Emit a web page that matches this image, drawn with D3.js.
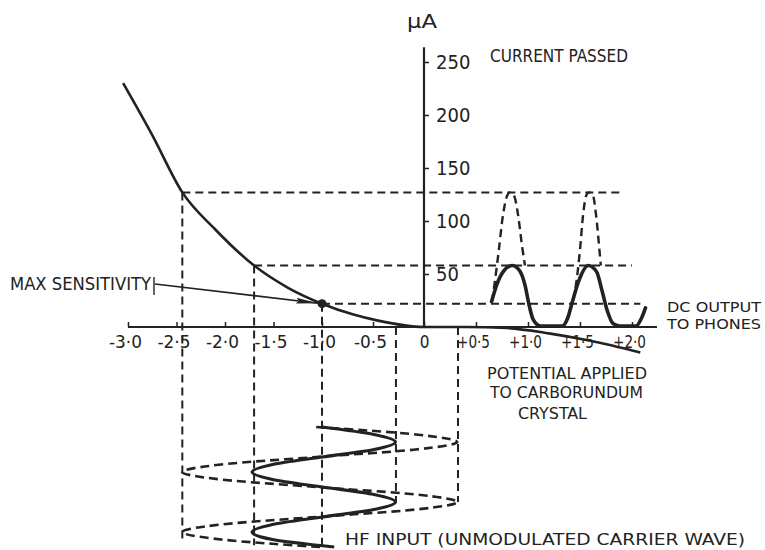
<!DOCTYPE html>
<html><head><meta charset="utf-8">
<script src="https://cdn.jsdelivr.net/npm/d3@7"></script>
<style>
body{margin:0;background:#fff;}
svg{display:block;}
text{font-family:"Liberation Sans Narrow","DejaVu Sans Condensed","Liberation Sans",sans-serif;fill:#222;}
</style></head><body>
<svg id="c" width="765" height="550"></svg>
<script>
// ---- axis ticks ----
const xTicks = [-3, -2.5, -2, -1.5, -1, -0.5, 0, 0.5, 1, 1.5, 2];
const xTickLabels = ["-3·0", "-2·5", "-2·0", "-1·5", "-1·0", "-0·5", "0", "+0·5", "+1·0", "+1·5", "+2·0"];
const yTicks = [50, 100, 150, 200, 250];
const yTickLabels = ["50", "100", "150", "200", "250"];

// ---- characteristic curve: potential (V) vs current (µA) ----
const curveV = [-3.05, -2.75, -2.44, -2.1, -1.7, -1.35, -1.0, -0.7, -0.45, 0, 0.4, 0.8, 1.2, 1.6, 2.08];
const curveI = [230, 181, 127, 92, 58, 37, 22, 12, 6, 0, 0, -1, -6, -13, -24];

// ---- rectified output (solid, small signal) ----
const outV = [0.65, 0.70, 0.76, 0.85, 0.92, 0.97, 1.01, 1.05, 1.12, 1.33, 1.38, 1.43, 1.49, 1.58, 1.66, 1.71, 1.76, 1.82, 1.88, 2.04, 2.09, 2.13];
const outI = [24, 40, 52, 58, 53, 40, 21, 7, 1, 1, 8, 25, 44, 58, 52, 35, 16, 3, 1, 1, 8, 18];

// ---- rectified output (dashed, large signal) ----
const peak1V = [0.654, 0.683, 0.72, 0.76, 0.80, 0.827, 0.865, 0.904, 0.942, 0.971];
const peak1I = [24, 44, 73, 106, 124, 127, 124, 106, 77, 58];
const peak2V = [1.433, 1.47, 1.50, 1.53, 1.56, 1.587, 1.625, 1.654, 1.683, 1.70];
const peak2I = [25, 46, 73, 106, 124, 127, 124, 106, 77, 58];

// ---- guide lines ----
const levelI = [127, 58, 22];
const levelFrom = [-2.44, -1.70, -1.0];
const levelTo = [1.88, 2.0, 2.08];
const dropV = [-2.44, -1.70, -1.0, -0.275, 0.327];
const dropTopI = [127, 58, 22, 0, 0];
const dropEndT = [1.88, 1.97, 2.0, 1.25, 1.25];

// ---- HF input (time in cycles downward, potential in V) ----
const hfT = [0, 0.125, 0.25, 0.375, 0.5, 0.625, 0.75, 0.875, 1, 1.125, 1.25, 1.375, 1.5, 1.625, 1.75, 1.875, 2];
const hfSolid = [-1.0, -0.49, -0.28, -0.49, -1.0, -1.51, -1.72, -1.51, -1.0, -0.49, -0.28, -0.49, -1.0, -1.51, -1.72, -1.51, -0.88];
const hfDashed = [-1.06, -0.08, 0.32, -0.08, -1.06, -2.04, -2.44, -2.04, -1.06, -0.08, 0.32, -0.08, -1.06, -2.04, -2.44, -2.04, -1.02];

const ink = "#222";
const svg = d3.select("#c");
const x = d3.scaleLinear().domain([-3, -1, 0, 2]).range([128, 322, 424, 632]);
const y = d3.scaleLinear().domain([0, 250]).range([327, 62]);
const t = d3.scaleLinear().domain([0, 2]).range([427, 547]);

svg.append("defs").append("marker")
  .attr("id", "arr").attr("viewBox", "0 0 22 8").attr("refX", 22).attr("refY", 4)
  .attr("markerWidth", 22).attr("markerHeight", 8).attr("markerUnits", "userSpaceOnUse")
  .attr("orient", "auto")
  .append("path").attr("d", "M0,1.2 L22,4 L0,6.8 L3,4 Z").attr("fill", ink);

// guides horizontal
svg.append("g").selectAll("line").data(levelI).join("line")
  .attr("x1", (d, i) => x(levelFrom[i])).attr("x2", (d, i) => x(levelTo[i]))
  .attr("y1", d => y(d)).attr("y2", d => y(d))
  .attr("stroke", ink).attr("stroke-width", 2).attr("stroke-dasharray", "8,5");
// guides vertical
svg.append("g").selectAll("line").data(dropV).join("line")
  .attr("x1", d => x(d)).attr("x2", d => x(d))
  .attr("y1", (d, i) => y(dropTopI[i])).attr("y2", (d, i) => t(dropEndT[i]))
  .attr("stroke", ink).attr("stroke-width", 2).attr("stroke-dasharray", "8,5");

// axes
const xAxis = d3.axisBottom(x).tickValues(xTicks).tickFormat((d, i) => xTickLabels[i])
  .tickSizeInner(-5).tickSizeOuter(0).tickPadding(9);
const gx = svg.append("g").attr("transform", `translate(0,${y(0)})`).call(xAxis);
gx.select(".domain").remove();
gx.selectAll(".tick line").attr("stroke", ink).attr("stroke-width", 1.5);
gx.selectAll(".tick text").attr("font-size", 17).attr("fill", ink)
  .attr("font-family", null).attr("dx", (d) => d === 0 ? 0 : -3)
  .each(function (d, i) { if (xTickLabels[i].length > 1) d3.select(this).attr("textLength", 33).attr("lengthAdjust", "spacingAndGlyphs"); });
svg.append("line").attr("x1", x(-3)).attr("x2", x(2.24)).attr("y1", y(0)).attr("y2", y(0))
  .attr("stroke", ink).attr("stroke-width", 2.2);

const yAxis = d3.axisRight(y).tickValues(yTicks).tickFormat((d, i) => yTickLabels[i])
  .tickSize(5).tickPadding(7);
const gy = svg.append("g").attr("transform", `translate(${x(0)},0)`).call(yAxis);
gy.select(".domain").remove();
gy.selectAll(".tick line").attr("stroke", ink).attr("stroke-width", 1.5);
gy.selectAll(".tick text").attr("font-size", 20).attr("fill", ink).attr("font-family", null);
svg.append("line").attr("x1", x(0)).attr("x2", x(0)).attr("y1", y(0)).attr("y2", y(264))
  .attr("stroke", ink).attr("stroke-width", 2.2);

// characteristic curve
const vi = d3.line().x(d => x(d[0])).y(d => y(d[1])).curve(d3.curveMonotoneX);
svg.append("path").datum(curveV.map((v, i) => [v, curveI[i]])).attr("d", vi)
  .attr("fill", "none").attr("stroke", ink).attr("stroke-width", 2.6);

// dashed output peaks
[[peak1V, peak1I], [peak2V, peak2I]].forEach(([vv, ii]) => {
  svg.append("path").datum(vv.map((v, i) => [v, ii[i]])).attr("d", vi)
    .attr("fill", "none").attr("stroke", ink).attr("stroke-width", 2.4).attr("stroke-dasharray", "8,5");
});
// solid output
svg.append("path").datum(outV.map((v, i) => [v, outI[i]])).attr("d", vi)
  .attr("fill", "none").attr("stroke", ink).attr("stroke-width", 3.6).attr("stroke-linecap", "round");

// HF input waves
const hf = d3.line().x(d => x(d[1])).y(d => t(d[0])).curve(d3.curveMonotoneY);
svg.append("path").datum(hfT.map((tt, i) => [tt, hfDashed[i]])).attr("d", hf)
  .attr("fill", "none").attr("stroke", ink).attr("stroke-width", 2.6).attr("stroke-dasharray", "9,5");
svg.append("path").datum(hfT.map((tt, i) => [tt, hfSolid[i]])).attr("d", hf)
  .attr("fill", "none").attr("stroke", ink).attr("stroke-width", 3.2);

// max sensitivity point
svg.append("circle").attr("cx", x(-1)).attr("cy", y(22)).attr("r", 4.5).attr("fill", ink);
svg.append("line").attr("x1", 155).attr("y1", 284).attr("x2", x(-1) - 4).attr("y2", y(22) - 0.5)
  .attr("stroke", ink).attr("stroke-width", 1.6).attr("marker-end", "url(#arr)");
svg.append("line").attr("x1", 154).attr("x2", 154).attr("y1", 277).attr("y2", 295)
  .attr("stroke", ink).attr("stroke-width", 1.4);

// labels
function label(txt, xx, yy, size, len) {
  const e = svg.append("text").attr("x", xx).attr("y", yy).attr("font-size", size).text(txt);
  if (len) e.attr("textLength", len).attr("lengthAdjust", "spacingAndGlyphs");
  return e;
}
label("µA", 407, 28, 20, 30);
label("CURRENT PASSED", 490, 62, 17, 138);
label("MAX SENSITIVITY", 10, 290, 17, 141);
label("DC OUTPUT", 667, 312, 14, 94);
label("TO PHONES", 667, 329, 14, 94);
label("POTENTIAL APPLIED", 487, 379, 15, 160);
label("TO CARBORUNDUM", 490, 398, 15, 153);
label("CRYSTAL", 518, 419, 15, 69);
label("HF INPUT (UNMODULATED CARRIER WAVE)", 345, 545, 15, 400);
</script>
</body></html>
